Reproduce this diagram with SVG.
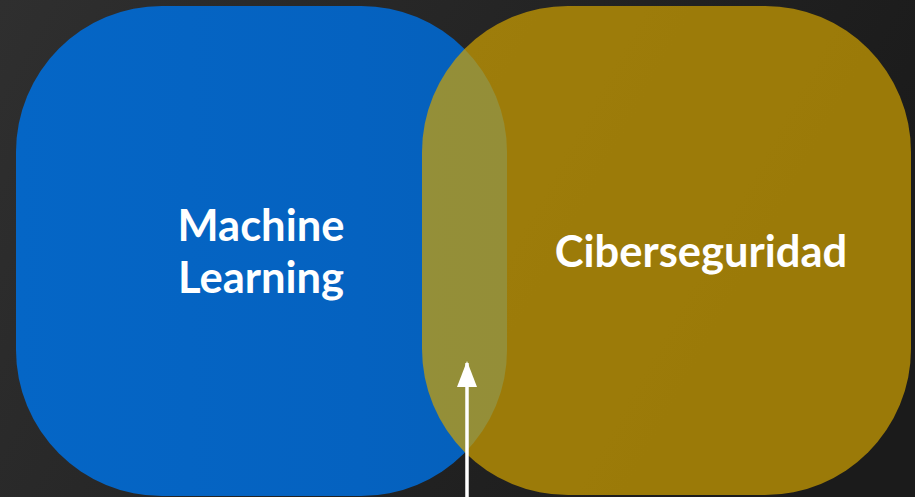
<svg xmlns="http://www.w3.org/2000/svg" width="915" height="497" viewBox="0 0 915 497">
  <defs>
    <linearGradient id="bg" x1="0" y1="0" x2="1" y2="0.3">
      <stop offset="0" stop-color="#2f2f2f"/>
      <stop offset="1" stop-color="#1b1b1b"/>
    </linearGradient>
    <linearGradient id="blueG" x1="0" y1="0" x2="1" y2="0">
      <stop offset="0" stop-color="#0566c6"/>
      <stop offset="0.7" stop-color="#0562c0"/>
      <stop offset="1" stop-color="#0560bb"/>
    </linearGradient>
    <marker id="arrow" viewBox="0 0 26 20" refX="24" refY="10" markerWidth="26" markerHeight="20" markerUnits="userSpaceOnUse" orient="auto">
      <path d="M0,0 L26,10 L0,20 Z" fill="#ffffff"/>
    </marker>
    <style>
      .lbl { font-family: Lato, "Open Sans", "Liberation Sans", sans-serif; font-weight: 700; font-size: 43.5px; fill: #ffffff; }
    </style>
  </defs>
  <rect x="0" y="0" width="915" height="497" fill="url(#bg)"/>
  <g id="machine-learning">
    <rect x="16" y="6" width="491" height="490" rx="146" ry="146" fill="url(#blueG)"/>
    <text class="lbl" x="261" y="241" text-anchor="middle">Machine</text>
    <text class="lbl" x="261" y="293" text-anchor="middle">Learning</text>
  </g>
  <g id="ciberseguridad">
    <rect x="422" y="6" width="489" height="489" rx="146" ry="146" fill="#d2a300" fill-opacity="0.7"/>
    <text class="lbl" x="701" y="267" text-anchor="middle">Ciberseguridad</text>
  </g>
  <g id="connectors">
    <line x1="467" y1="497" x2="467" y2="363" stroke="#ffffff" stroke-width="3.5" marker-end="url(#arrow)"/>
  </g>
</svg>
